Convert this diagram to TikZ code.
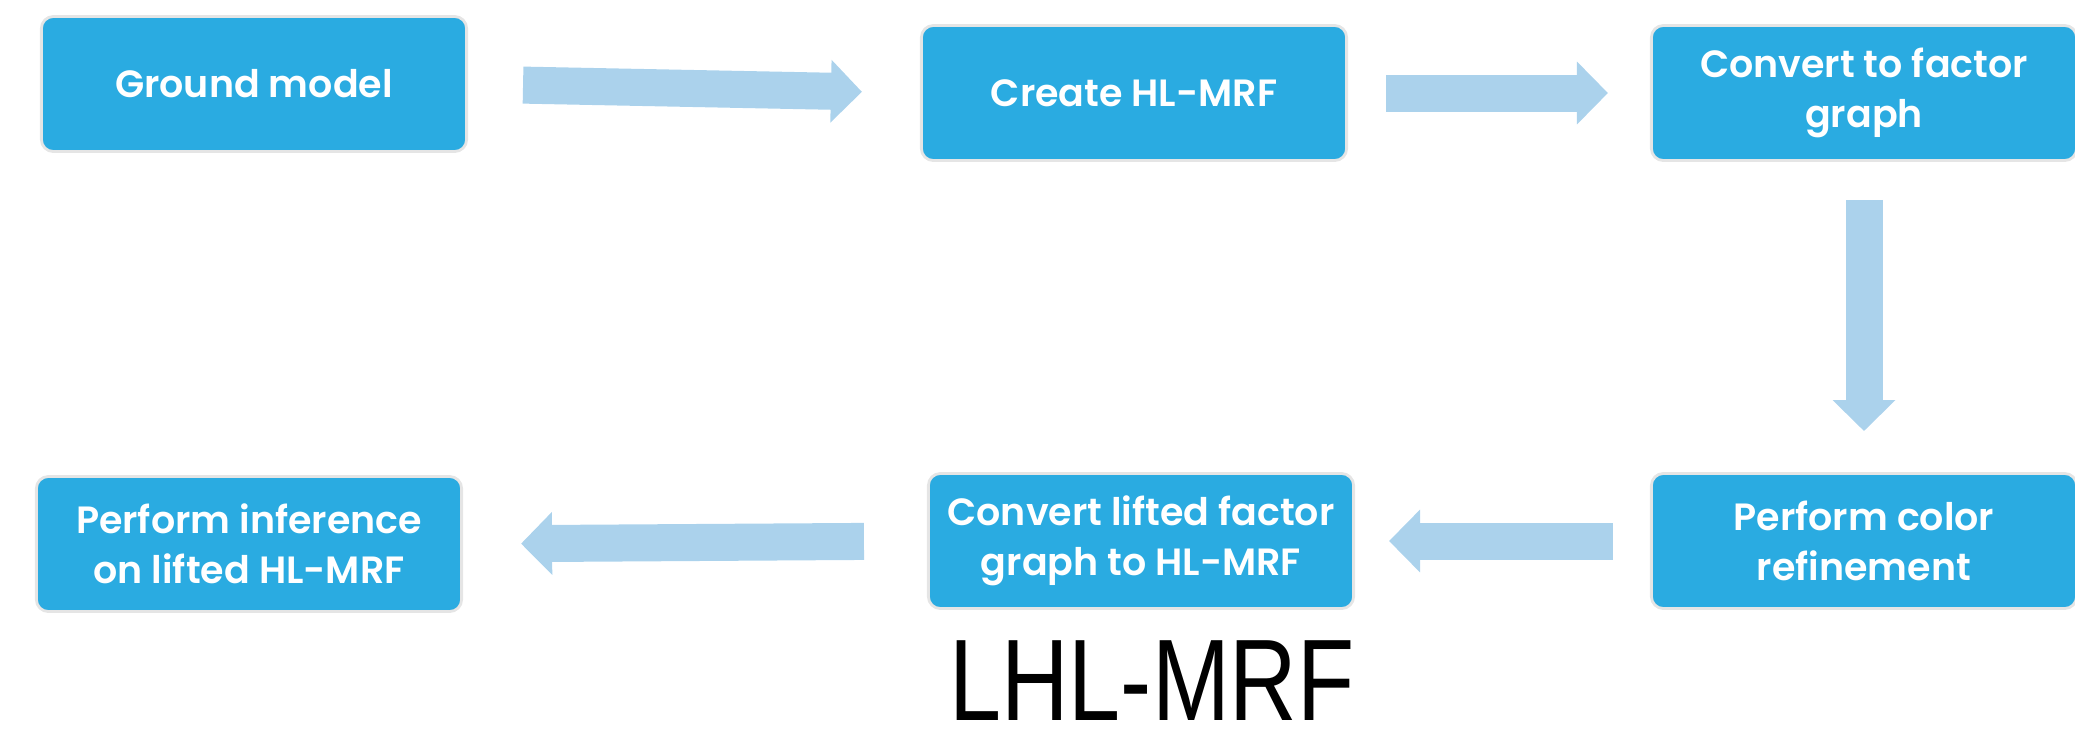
\documentclass[tikz,border=0pt]{standalone}
\usepackage{fontspec}
\usetikzlibrary{arrows.meta}
\newfontfamily\boxfont{Poppins SemiBold}
\newfontfamily\labelfont{Liberation Sans}
\definecolor{boxblue}{RGB}{42,171,225}
\definecolor{arrowblue}{RGB}{171,210,236}
\tikzset{
  stepbox/.style={rectangle, rounded corners=0.12cm, fill=boxblue, draw=gray!20,
    line width=0.8pt, text=white, minimum width=4.25cm, minimum height=1.35cm,
    align=center, font=\boxfont\fontsize{10.8}{14.2}\selectfont},
  flow/.style={line width=0.37cm, arrowblue, -{Triangle[width=0.61cm,length=0.31cm]}}
}
\begin{document}
\begin{tikzpicture}[x=0.01cm, y=-0.01cm]
  \useasboundingbox (0,0) rectangle (2075,729);
  % top row
  \node[stepbox] (gm) at (254,84) {Ground model};
  \node[stepbox] (hl) at (1134,93) {Create HL-MRF};
  \node[stepbox] (fg) at (1864,93) {Convert to factor\\graph};
  % bottom row
  \node[stepbox] (cr) at (1864,541) {Perform color\\refinement};
  \node[stepbox] (lf) at (1141,541) {Convert lifted factor\\graph to HL-MRF};
  \node[stepbox] (pi) at (249,544) {Perform inference\\on lifted HL-MRF};
  % arrows
  \draw[flow, shorten <=0.55cm, shorten >=0.58cm] (gm.east) -- (hl.west);
  \draw[flow, shorten <=0.38cm, shorten >=0.42cm] (hl.east) -- (fg.west);
  \draw[flow, shorten <=0.38cm, shorten >=0.41cm] (fg.south) -- (cr.north);
  \draw[flow, shorten <=0.37cm, shorten >=0.34cm] (cr.west) -- (lf.east);
  \draw[flow, shorten <=0.63cm, shorten >=0.58cm] (lf.west) -- (pi.east);
  \node[font=\labelfont\fontsize{26.6}{30}\selectfont, anchor=base, inner sep=0pt] (title) at (1152,720) {\scalebox{1}[1.24]{LHL-MRF}};
\end{tikzpicture}
\end{document}
